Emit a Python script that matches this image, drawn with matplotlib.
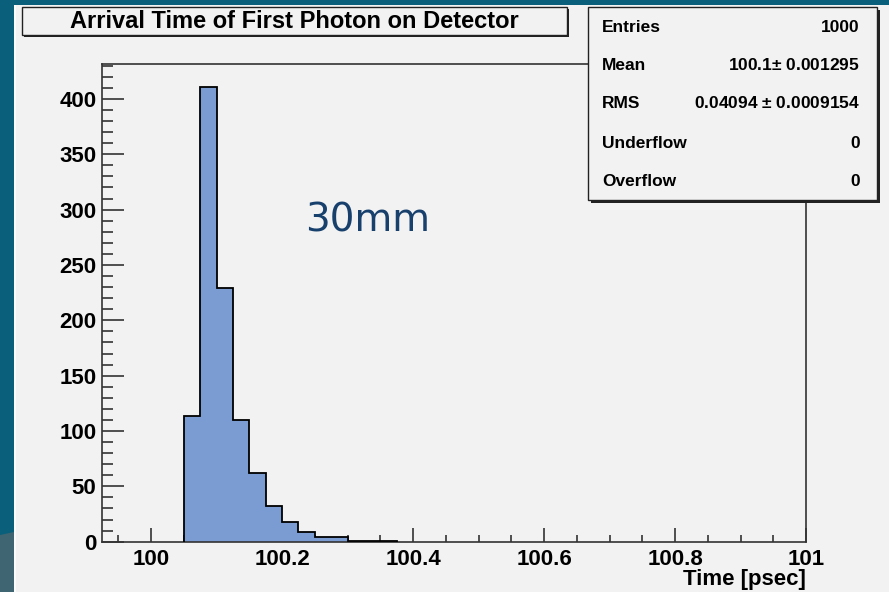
import matplotlib.pyplot as plt
from matplotlib.patches import Rectangle, Polygon
import numpy as np

# histogram: 0.025 psec bins, only non-empty bins listed
bin_start = 100.05
bin_width = 0.025
counts = [114, 411, 229, 110, 62, 32, 18, 9, 4, 4, 1, 1, 1]

stat_names = ['Entries', 'Mean', 'RMS', 'Underflow', 'Overflow']
stat_values = ['1000', '100.1$\\pm$ 0.001295', '0.04094 $\\pm$ 0.0009154', '0', '0']

title = 'Arrival Time of First Photon on Detector'
xlabel = 'Time [psec]'
note = '30mm'

W, H = 889, 592
plt.rcParams['font.family'] = ['Liberation Sans', 'DejaVu Sans']
plt.rcParams['mathtext.fontset'] = 'custom'
plt.rcParams['mathtext.rm'] = 'Liberation Sans:bold'

fig = plt.figure(figsize=(W / 100, H / 100), dpi=100, facecolor='#0a5f7b')


def px(x, y, w, h):
    # pixel box (from top-left) -> figure coords
    return (x / W, 1 - (y + h) / H), w / W, h / H


# slide background pieces
fig.add_artist(Polygon([(0, 0), (14 / W, 0), (14 / W, 1 - 532 / H), (0, 1 - 535 / H)],
                       closed=True, transform=fig.transFigure, facecolor='#3e6571', edgecolor='none', zorder=0))
xy, w, h = px(14, 5, W - 14, H - 5)
fig.add_artist(Rectangle(xy, w, h, transform=fig.transFigure, facecolor='#f2f2f2', edgecolor='none', zorder=0))
xy, w, h = px(14, 5, 2, H - 5)
fig.add_artist(Rectangle(xy, w, h, transform=fig.transFigure, facecolor='#fbfbfb', edgecolor='none', zorder=0))

ax = fig.add_axes([102 / W, (H - 541.7) / H, (806 - 102) / W, (541.7 - 64) / H])
ax.set_facecolor('#f2f2f2')

edges = bin_start + bin_width * np.arange(len(counts) + 1)
ax.stairs(counts, edges, fill=True, color='#7b9bd3', zorder=2)
ax.stairs(counts, edges, color='black', linewidth=1.3, zorder=3)

ax.set_xlim(99.925, 101)
ax.set_ylim(0, 1.05 * max(counts))
ax.set_xticks(np.arange(100, 101.01, 0.2))
ax.set_xticks(np.arange(99.95, 101.001, 0.05), minor=True)
ax.set_xticklabels(['100', '100.2', '100.4', '100.6', '100.8', '101'])
ax.set_yticks(np.arange(0, 401, 50))
ax.set_yticks(np.arange(0, 431, 10), minor=True)

ax.tick_params(axis='both', which='both', direction='in', color='#333333', labelsize=16)
ax.tick_params(axis='y', which='major', length=16, width=1.2, pad=4)
ax.tick_params(axis='y', which='minor', length=8, width=1.2)
ax.tick_params(axis='x', which='major', length=10, width=1.2, pad=5)
ax.tick_params(axis='x', which='minor', length=5, width=1.2)
for lab in ax.get_xticklabels() + ax.get_yticklabels():
    lab.set_fontweight('bold')
for s in ax.spines.values():
    s.set_color('#333333')
    s.set_linewidth(1.2)

fig.text(806 / W, 1 - 579 / H, xlabel, ha='right', va='center', fontsize=16, fontweight='bold')
fig.text(305 / W, 1 - 232 / H, note, ha='left', va='baseline', fontsize=28,
         family=['DejaVu Sans'], color='#17406d')

# title box with shadow
xy, w, h = px(24, 9, 545, 28)
fig.add_artist(Rectangle(xy, w, h, transform=fig.transFigure, facecolor='#222222', edgecolor='none', zorder=5))
xy, w, h = px(22, 7, 545, 28)
fig.add_artist(Rectangle(xy, w, h, transform=fig.transFigure, facecolor='#f2f2f2', edgecolor='#222222', linewidth=1, zorder=6))
fig.text(294 / W, 1 - 22 / H, title, ha='center', va='center', fontsize=17, fontweight='bold', zorder=7)

# stats box with shadow
xy, w, h = px(591, 10, 289, 193)
fig.add_artist(Rectangle(xy, w, h, transform=fig.transFigure, facecolor='#222222', edgecolor='none', zorder=5))
xy, w, h = px(588, 7, 289, 193)
fig.add_artist(Rectangle(xy, w, h, transform=fig.transFigure, facecolor='#f2f2f2', edgecolor='#222222', linewidth=1, zorder=6))
rows_y = [27, 65, 103, 143, 181]
for name, val, yy in zip(stat_names, stat_values, rows_y):
    fig.text(602 / W, 1 - yy / H, name, ha='left', va='center', fontsize=12.5, fontweight='bold', zorder=7)
    fig.text(860 / W, 1 - yy / H, val, ha='right', va='center', fontsize=12.5, fontweight='bold', zorder=7)

fig.savefig('out.png', dpi=100, facecolor=fig.get_facecolor())
